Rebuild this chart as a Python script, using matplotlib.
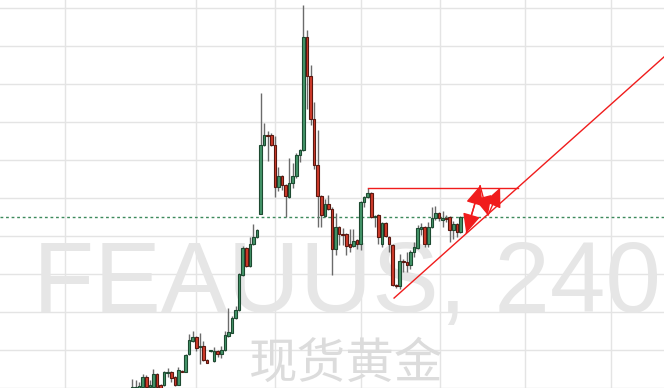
import numpy as np
import matplotlib.pyplot as plt

# 4h candles, price in chart units
open_ = [5, 4, 5, 8, 18, 8, 8, 21, 10, 10, 22, 23, 18, 10, 24, 23, 42, 55, 59, 49,
         50, 36, 44.5, 35, 45, 42, 46, 60, 63, 78, 86, 122, 149, 131, 153, 160, 183, 253, 263, 263,
         253, 211, 222, 213, 201, 215, 222, 243, 248, 363, 323, 280, 233, 202, 181, 193, 188, 148, 170, 163,
         163, 153, 151, 157, 153, 196, 201, 205, 180, 182, 153, 174, 160, 152, 112, 110, 135, 135, 132, 145,
         149, 168, 170, 153, 170, 179, 184, 177, 179, 180, 167, 173, 165]
high = [16, 15, 13.5, 21, 20, 15, 26, 22, 11, 24, 27, 24, 19, 29, 25, 42, 62, 65, 60, 63,
        55, 37, 46, 49, 46, 50, 65, 88, 80, 90, 124, 151, 150, 160, 173, 168, 306, 275, 267, 265,
        262, 231, 223, 214, 240, 235, 245, 249, 395, 370, 334, 297, 268, 203, 199, 203, 190, 184, 171, 169,
        164, 168, 168, 158, 197, 202, 210, 206, 182, 183, 175, 175, 161, 153, 113, 143, 138, 145, 147, 155,
        172, 174, 171, 175, 190, 191, 185, 186, 182, 181, 176, 174, 181]
low = [2, 2, 2, 6, 5, 4, 7, 6, 4, 9, 18, 13, 9, 10, 23, 23, 41, 54, 45, 32,
       35, 33, 44, 34, 39, 38, 45, 59, 63, 77, 85, 121, 130, 130, 152, 159, 183, 252, 237, 252,
       201, 207, 208, 180, 200, 210, 220, 236, 247, 290, 273, 229, 170, 170, 180, 187, 122, 142, 152, 152,
       142, 145, 150, 148, 147, 190, 200, 179, 170, 153, 150, 160, 145, 110, 108, 107, 125, 125, 128, 140,
       148, 162, 150, 150, 169, 177, 176, 170, 175, 155, 158, 160, 164]
close = [8, 8, 9, 18, 8, 10, 21, 8, 6, 23, 23, 17, 10, 25, 23, 41, 56, 59, 48, 50,
         36, 33, 45, 45, 42, 46, 61, 64, 78, 86, 123, 149, 131, 153, 160, 167, 253, 263, 262, 253,
         211, 222, 213, 202, 215, 222, 243, 248, 363, 323, 280, 233, 202, 182, 193, 188, 148, 170, 163, 162.5,
         151, 150, 156, 153, 196, 201, 205, 180, 181, 160, 174, 161, 153, 112, 110, 136, 134.5, 132, 145, 150,
         169, 170, 153, 170, 179, 184, 179, 179, 178.5, 167, 173, 165, 180]

# drawings: resistance, rising trend line, zigzag arrows
res_x = [66, 108]
res_level = 210
trend_x = [73.4, 150]
trend_y = [98.3, 345.6]
zig_x = [93.6, 97.5, 99.7, 103.1]
zig_y = [164, 212, 182, 210]

# time / price grid positions
x_grid = [-18.9, 18.0, 40.1, 64.2, 86.2, 110.1, 134.1]
y_grid = np.arange(7.25, 400, 38.45)

UP, UP_EDGE = "#45966a", "#1d4a31"
DN, DN_EDGE = "#d13b2b", "#5a1810"
WICK = "#6b6b6b"
RED = "#f01c1c"

plt.rcParams["font.family"] = ["Liberation Sans", "DejaVu Sans"]

fig = plt.figure(figsize=(6.64, 3.88), dpi=100)
ax = fig.add_axes([0, 0, 1, 1])
ax.set_xlim(-36.97, 149.0)
ax.set_ylim(12, 400)

ax.set_axisbelow(True)
ax.set_xticks(x_grid)
ax.set_yticks(y_grid)
ax.grid(True, color="#e4e4e4", lw=1)
ax.tick_params(length=0, labelbottom=False, labelleft=False)
for s in ax.spines.values():
    s.set_visible(False)

# watermark, behind the candles
ax.text(0.050, 0.196, "FEAUUS, 240", transform=ax.transAxes, fontsize=72,
        color="#e6e6e6", ha="left", va="baseline", zorder=1)
ax.text(0.521, 0.063, "现货黄金", transform=ax.transAxes, fontsize=35,
        color="#dcdcdc", ha="center", va="center",
        family=["Noto Sans CJK SC", "DejaVu Sans"], zorder=1)

o = np.array(open_, dtype=float)
h = np.array(high, dtype=float)
l = np.array(low, dtype=float)
c = np.array(close, dtype=float)
idx = np.arange(len(o))
up = c >= o

ax.vlines(idx, l, h, color=WICK, lw=1, zorder=3)
body = np.maximum(np.abs(c - o), 0.8)
bottom = np.minimum(o, c)
ax.bar(idx[up], body[up], bottom=bottom[up], width=0.72, color=UP,
       edgecolor=UP_EDGE, lw=0.8, zorder=4)
ax.bar(idx[~up], body[~up], bottom=bottom[~up], width=0.72, color=DN,
       edgecolor=DN_EDGE, lw=0.8, zorder=4)

# last price line
ax.axhline(c[-1], color="#3d8a5c", lw=1, ls=(0, (2, 2)), zorder=2)

ax.plot(res_x, [res_level, res_level], color=RED, lw=1, zorder=5)
ax.plot(trend_x, trend_y, color=RED, lw=1, zorder=5)

head = dict(arrowstyle="-|>,head_length=0.7,head_width=0.32", color=RED,
            lw=1, mutation_scale=17, shrinkA=0, shrinkB=0)
pairs = [(1, 0), (0, 1), (1, 2), (2, 3)]
for a, b in pairs:
    ax.annotate("", xy=(zig_x[b], zig_y[b]), xytext=(zig_x[a], zig_y[a]),
                arrowprops=head, zorder=6)

fig.savefig("out.png", dpi=100)
